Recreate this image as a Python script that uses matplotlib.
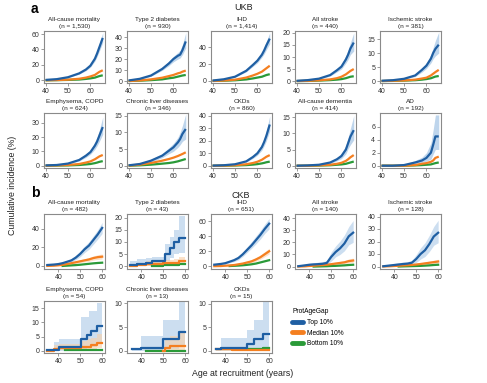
import matplotlib
matplotlib.use('Agg')
import matplotlib.pyplot as plt
from matplotlib.lines import Line2D

nan = float('nan')
plt.rcParams['font.family'] = ['Liberation Sans', 'DejaVu Sans']

# ---------------- UKB data (age grid shared) ----------------
ukb_age = [40, 45, 50, 55, 58, 60, 62, 63, 64, 65.5]

ukb_mort_top = [0.5, 1.5, 4, 9, 14, 19, 28, 35, 43, 55]
ukb_mort_hi = [0.7, 1.8, 4.6, 10, 15.5, 21, 31, 39, 48, 62]
ukb_mort_lo = [0.3, 1.2, 3.4, 8, 12.5, 17, 25, 31, 38, 49]
ukb_mort_med = [0, 0.3, 0.8, 2, 3.5, 5, 7, 9, 11, 13]
ukb_mort_bot = [0, 0.2, 0.5, 1, 1.8, 2.5, 3.5, 4.5, 5.5, 6.5]

ukb_t2d_top = [0.5, 2, 5, 11, 16, 20, 23, 24, 28, 36]
ukb_t2d_hi = [0.7, 2.4, 5.7, 12.3, 18, 22.5, 26, 28, 33, 44]
ukb_t2d_lo = [0.3, 1.6, 4.3, 9.7, 14, 17.5, 20, 21, 24, 30]
ukb_t2d_med = [0, 0.5, 1.5, 3, 4.5, 5.5, 7, 7.5, 8.5, 9.5]
ukb_t2d_bot = [0, 0.3, 0.8, 1.5, 2.5, 3, 4, 4.5, 5, 5.5]

ukb_ihd_top = [0.5, 2, 5, 12, 19, 24, 31, 36, 42, 50]
ukb_ihd_hi = [0.7, 2.4, 5.6, 13.2, 20.8, 26.5, 34, 40, 47, 57]
ukb_ihd_lo = [0.3, 1.6, 4.4, 10.8, 17.2, 21.5, 28, 32, 37, 44]
ukb_ihd_med = [0, 0.5, 1.5, 4, 6.5, 8.5, 11, 13, 15, 18]
ukb_ihd_bot = [0, 0.3, 0.8, 1.8, 3, 4, 5, 6, 7, 8]

ukb_str_top = [0.1, 0.4, 1, 2.5, 4.5, 6, 9, 11, 13.5, 16]
ukb_str_hi = [0.2, 0.5, 1.2, 2.9, 5.2, 7, 10.5, 13, 16, 20]
ukb_str_lo = [0.05, 0.3, 0.8, 2.1, 3.8, 5, 7.5, 9, 11, 12.5]
ukb_str_med = [0, 0.1, 0.3, 0.7, 1.2, 1.8, 2.8, 3.5, 4.2, 5]
ukb_str_bot = [0, 0.05, 0.2, 0.4, 0.6, 0.8, 1.2, 1.5, 1.8, 2]

ukb_isc_top = [0.1, 0.3, 0.8, 2, 4, 5.5, 8, 10, 11.5, 13]
ukb_isc_hi = [0.2, 0.4, 1, 2.4, 4.8, 6.5, 9.5, 12, 14.5, 17.5]
ukb_isc_lo = [0.05, 0.2, 0.6, 1.6, 3.2, 4.5, 6.5, 8, 9, 10]
ukb_isc_med = [0, 0.1, 0.2, 0.5, 0.9, 1.2, 2, 2.6, 3.2, 4]
ukb_isc_bot = [0, 0.05, 0.15, 0.3, 0.5, 0.7, 1, 1.3, 1.6, 1.8]

ukb_copd_top = [0.2, 0.5, 1.5, 4, 7, 9.5, 14, 17, 21, 27]
ukb_copd_hi = [0.3, 0.7, 1.8, 4.7, 8.2, 11, 16.5, 20, 25, 34]
ukb_copd_lo = [0.1, 0.4, 1.2, 3.3, 5.8, 8, 11.5, 14, 17, 22]
ukb_copd_med = [0, 0.2, 0.5, 1.2, 2.2, 3, 4.5, 5.5, 6.5, 7.5]
ukb_copd_bot = [0, 0.1, 0.2, 0.5, 0.9, 1.2, 1.8, 2.2, 2.7, 3.2]

ukb_liv_top = [0.1, 0.5, 1.5, 3, 4.5, 5.5, 7, 8, 9.5, 11]
ukb_liv_hi = [0.2, 0.7, 1.9, 3.6, 5.4, 6.7, 8.5, 10, 12, 15.5]
ukb_liv_lo = [0.05, 0.3, 1.1, 2.4, 3.6, 4.3, 5.5, 6.3, 7.3, 8]
ukb_liv_med = [0, 0.3, 0.8, 1.5, 2, 2.4, 2.9, 3.2, 3.5, 4]
ukb_liv_bot = [0, 0.1, 0.3, 0.6, 0.8, 1, 1.3, 1.5, 1.7, 2]

ukb_ckd_top = [0.1, 0.4, 1.2, 3.5, 7, 10, 15, 19, 24, 33]
ukb_ckd_hi = [0.2, 0.5, 1.5, 4.1, 8.1, 11.6, 17.5, 22, 28, 40]
ukb_ckd_lo = [0.05, 0.3, 0.9, 2.9, 5.9, 8.4, 12.5, 16, 20, 28]
ukb_ckd_med = [0, 0.1, 0.4, 1.2, 2.2, 3.2, 4.8, 6, 7.2, 8.5]
ukb_ckd_bot = [0, 0.05, 0.2, 0.5, 0.9, 1.3, 1.9, 2.3, 2.8, 3.3]

ukb_dem_top = [0, 0.1, 0.3, 1, 2, 3, 5, 7, 9, 11]
ukb_dem_hi = [0, 0.2, 0.4, 1.3, 2.5, 3.8, 6.3, 8.7, 11.5, 15.5]
ukb_dem_lo = [0, 0.05, 0.2, 0.7, 1.5, 2.2, 3.7, 5.3, 6.5, 8]
ukb_dem_med = [0, 0, 0.1, 0.3, 0.6, 0.9, 1.5, 2, 2.6, 3.3]
ukb_dem_bot = [0, 0, 0.05, 0.15, 0.3, 0.4, 0.6, 0.8, 1, 1.3]

ukb_ad_top = [0, 0, 0.1, 0.5, 0.8, 1.2, 2, 3.2, 4.5, 4.5]
ukb_ad_hi = [0, 0, 0.2, 0.8, 1.3, 2, 3.5, 5.5, 7.8, 7.8]
ukb_ad_lo = [0, 0, 0.05, 0.3, 0.5, 0.7, 1, 1.8, 2.5, 2.5]
ukb_ad_med = [0, 0, 0, 0.1, 0.3, 0.4, 0.6, 0.8, 1.2, 1.4]
ukb_ad_bot = [0, 0, 0, 0.05, 0.1, 0.15, 0.2, 0.3, 0.4, 0.5]

# ---------------- CKB data ----------------
ckb_age = [35, 38, 40, 42, 44, 46, 48, 50, 52, 54, 56, 58, 60]

ckb_mort_top = [1, 1.5, 2, 3, 4.5, 6, 9, 13, 18, 22, 28, 34, 41]
ckb_mort_hi = [1.5, 2.2, 3, 4.2, 6, 8, 11.5, 16, 21.5, 26, 32.5, 39, 47]
ckb_mort_lo = [0.5, 1, 1.3, 2, 3, 4.2, 6.8, 10, 14.5, 18, 23.5, 29, 35]
ckb_mort_med = [0, 0.3, 0.7, 1.2, 2, 3, 4, 5, 6, 7, 8.5, 9.5, 10]
ckb_mort_med_hi = [0, 0.6, 1.1, 1.8, 2.8, 4, 5.3, 6.5, 7.8, 9, 10.8, 12, 13]
ckb_mort_med_lo = [0, 0.1, 0.3, 0.7, 1.3, 2, 2.8, 3.6, 4.3, 5, 6.2, 7, 7.5]
ckb_mort_bot = [nan, nan, nan, 0, 0.3, 0.6, 0.9, 1.3, 1.8, 2.3, 2.8, 3.2, 3.5]

ckb_ihd_top = [2, 3, 4, 6, 8, 11, 16, 22, 28, 35, 42, 50, 57]
ckb_ihd_hi = [3, 4.2, 5.5, 7.8, 10.2, 13.5, 19, 26, 33, 40.5, 48, 56.5, 64]
ckb_ihd_lo = [1.2, 2, 2.8, 4.5, 6, 8.5, 13, 18.5, 24, 30, 36.5, 44, 50]
ckb_ihd_med = [0, 0.2, 0.6, 1, 1.5, 2.5, 3.5, 5, 6.5, 9, 12, 16, 20]
ckb_ihd_med_hi = [0, 0.5, 1.1, 1.7, 2.4, 3.6, 4.9, 6.8, 8.6, 11.6, 15, 19.5, 24]
ckb_ihd_med_lo = [0, 0, 0.2, 0.5, 0.8, 1.5, 2.3, 3.4, 4.6, 6.6, 9.2, 12.8, 16.3]
ckb_ihd_bot = [nan, nan, nan, 0.2, 0.5, 0.8, 1.2, 1.8, 2.5, 3.5, 5, 6.5, 8]

ckb_str_top = [0.3, 1, 1.5, 1.8, 2, 2.3, 3, 8, 12, 15, 19, 25, 28]
ckb_str_hi = [1, 2, 2.7, 3.2, 3.6, 4, 5, 12, 17, 21, 26, 33, 38]
ckb_str_lo = [0, 0.3, 0.6, 0.8, 0.9, 1, 1.5, 4.5, 8, 10, 13, 18, 20]
ckb_str_med = [0, 0.2, 0.5, 0.7, 1, 1.2, 1.5, 2, 2.5, 3, 3.5, 4.5, 5]
ckb_str_med_hi = [0, 0.6, 1, 1.3, 1.7, 2, 2.4, 3, 3.7, 4.3, 5, 6.3, 7]
ckb_str_med_lo = [0, 0, 0.2, 0.3, 0.5, 0.6, 0.8, 1.2, 1.5, 1.9, 2.2, 3, 3.3]
ckb_str_bot = [nan, nan, nan, 0, 0.1, 0.2, 0.3, 0.5, 0.6, 0.8, 1, 1.3, 1.5]

ckb_isc_top = [0.2, 0.8, 1.2, 1.6, 2, 2.3, 3, 6, 10, 13, 18, 24, 27]
ckb_isc_hi = [0.8, 1.8, 2.4, 3, 3.5, 3.8, 5, 9.5, 15, 19, 25, 32, 37]
ckb_isc_lo = [0, 0.2, 0.5, 0.7, 0.9, 1, 1.4, 3.2, 6, 8, 12, 17, 19]
ckb_isc_med = [0, 0.2, 0.4, 0.6, 0.8, 1, 1.2, 1.6, 2, 2.5, 3, 3.5, 4]
ckb_isc_med_hi = [0, 0.5, 0.8, 1.1, 1.4, 1.7, 2, 2.5, 3, 3.6, 4.3, 5, 5.8]
ckb_isc_med_lo = [0, 0, 0.1, 0.2, 0.3, 0.4, 0.5, 0.8, 1.1, 1.5, 1.8, 2.2, 2.5]
ckb_isc_bot = [nan, nan, nan, 0, 0.1, 0.2, 0.3, 0.4, 0.5, 0.7, 0.9, 1.2, 1.4]

# small-n CKB panels drawn as step curves, each with own change points
ckb_t2d_age = [35, 38, 42, 45, 50, 51, 53, 55, 57, 60]
ckb_t2d_top = [0.5, 1, 1.5, 2, 2, 5, 7.5, 10, 11.5, 11.5]
ckb_t2d_hi = [2, 3, 3.5, 4, 4, 9, 12, 15, 20.5, 20.5]
ckb_t2d_lo = [0, 0, 0, 0.3, 0.3, 2, 3.5, 5, 5.5, 5.5]
ckb_t2d_med = [0, 0.5, 1, 1, 1.5, 1.5, 1.5, 1.5, 2, 2]
ckb_t2d_med_hi = [0.5, 1.5, 2, 2.2, 2.8, 2.8, 2.8, 3, 3.8, 3.8]
ckb_t2d_med_lo = [0, 0, 0.3, 0.4, 0.6, 0.6, 0.6, 0.7, 1, 1]
ckb_t2d_bot = [nan, nan, nan, 0, 0.5, 0.5, 0.5, 0.5, 1, 1]

ckb_copd_age = [35, 38, 40.5, 43, 50.5, 53, 54, 55, 57.5, 60]
ckb_copd_top = [0.3, 0.3, 1.2, 1.2, 4.3, 5.7, 5.7, 7, 8.8, 8.8]
ckb_copd_hi = [0.5, 3, 4, 4, 12, 12, 14, 14, 17, 17]
ckb_copd_lo = [0, 0, 0, 0, 0.5, 1, 1, 1.5, 2.5, 2.5]
ckb_copd_med = [0, 0.5, 1, 1, 1.2, 1.5, 1.5, 2, 2.8, 2.8]
ckb_copd_med_hi = [0, 2, 2.3, 2.5, 3.5, 4, 4, 4.5, 6, 6]
ckb_copd_med_lo = [0, 0, 0.2, 0.2, 0.4, 0.5, 0.5, 0.7, 1, 1]
ckb_copd_bot = [nan, nan, nan, 0.3, 0.3, 0.3, 0.3, 0.3, 0.3, 0.3]

ckb_liv_age = [35, 36, 40, 42, 50, 51, 53, 57, 60]
ckb_liv_top = [nan, 0.3, 0.5, 0.5, 2.5, 2.5, 2.5, 4, 4]
ckb_liv_hi = [nan, 0.5, 3, 3, 6.5, 6.5, 6.5, 11, 11]
ckb_liv_lo = [nan, 0, 0, 0, 0.3, 0.3, 0.3, 0.8, 0.8]
ckb_liv_med = [nan, nan, nan, nan, 0, 0.5, 1, 1, 1]
ckb_liv_med_hi = [nan, nan, nan, nan, 0, 2.5, 3, 3.8, 3.8]
ckb_liv_med_lo = [nan, nan, nan, nan, 0, 0, 0.2, 0.2, 0.2]
ckb_liv_bot = [nan, nan, nan, 0, 0, 0, 0, 0, 0]

ckb_ckd_age = [35, 36, 38, 43, 50, 53, 57, 60]
ckb_ckd_top = [nan, 0.3, 0.5, 0.5, 1.5, 2.5, 3.5, 3.5]
ckb_ckd_hi = [nan, 0.5, 2.7, 2.7, 4.5, 6.5, 10.5, 10.5]
ckb_ckd_lo = [nan, 0, 0, 0, 0.2, 0.5, 0.8, 0.8]
ckb_ckd_med = [nan, 0.3, 0.3, 0.1, 0.1, 0.1, 0.2, 0.2]
ckb_ckd_med_hi = [nan, 0.6, 0.8, 0.5, 0.5, 0.5, 0.8, 0.8]
ckb_ckd_med_lo = [nan, 0, 0, 0, 0, 0, 0, 0]
ckb_ckd_bot = [nan, nan, nan, 0.3, 0.3, 0.3, 0.5, 0.5]

# ---------------- styles ----------------
C_TOP = '#1f5fa3'
C_MED = '#f47f20'
C_BOT = '#2a9a38'
F_TOP = '#b7d1ea'
F_MED = '#f9cfa8'
SPINE = '#8a8a8a'

W, H = 487, 383
fig = plt.figure(figsize=(W / 100, H / 100), dpi=100)

col_left = [44, 127, 211, 295, 380]
col_w = 61


def make_ax(col, top_px, bot_px):
    l = col_left[col]
    return fig.add_axes([l / W, 1 - bot_px / H, col_w / W, (bot_px - top_px) / H])


def style(ax, title, n, xlim, xticks, ylim, yticks):
    ax.set_xlim(*xlim)
    ax.set_ylim(*ylim)
    ax.set_xticks(xticks)
    ax.set_yticks(yticks)
    for s in ax.spines.values():
        s.set_color(SPINE)
        s.set_linewidth(0.8)
    ax.tick_params(length=2, width=0.6, color=SPINE, labelsize=5,
                   labelcolor='#333333', pad=1.5)
    ax.set_title(f"{title}\n(n = {n})", fontsize=4.6, pad=2.5,
                 linespacing=1.35, color='#222222')


ukb_xlim = (39.3, 66.5)
ukb_xt = [40, 50, 60]
ckb_xlim = (33.5, 61.3)
ckb_xt = [40, 50, 60]

ukb_panels = [
    ('All-cause mortality', '1,530', ukb_mort_top, ukb_mort_hi, ukb_mort_lo, ukb_mort_med, ukb_mort_bot, (-3.5, 64), [0, 20, 40, 60]),
    ('Type 2 diabetes', '930', ukb_t2d_top, ukb_t2d_hi, ukb_t2d_lo, ukb_t2d_med, ukb_t2d_bot, (-1.8, 45.5), [0, 10, 20, 30, 40]),
    ('IHD', '1,414', ukb_ihd_top, ukb_ihd_hi, ukb_ihd_lo, ukb_ihd_med, ukb_ihd_bot, (-2.4, 59), [0, 20, 40]),
    ('All stroke', '440', ukb_str_top, ukb_str_hi, ukb_str_lo, ukb_str_med, ukb_str_bot, (-0.8, 20.8), [0, 5, 10, 15, 20]),
    ('Ischemic stroke', '381', ukb_isc_top, ukb_isc_hi, ukb_isc_lo, ukb_isc_med, ukb_isc_bot, (-0.7, 17.9), [0, 5, 10, 15]),
    ('Emphysema, COPD', '624', ukb_copd_top, ukb_copd_hi, ukb_copd_lo, ukb_copd_med, ukb_copd_bot, (-1.6, 36.8), [0, 10, 20, 30]),
    ('Chronic liver diseases', '346', ukb_liv_top, ukb_liv_hi, ukb_liv_lo, ukb_liv_med, ukb_liv_bot, (-0.7, 15.8), [0, 5, 10, 15]),
    ('CKDs', '860', ukb_ckd_top, ukb_ckd_hi, ukb_ckd_lo, ukb_ckd_med, ukb_ckd_bot, (-1.8, 42.2), [0, 10, 20, 30, 40]),
    ('All-cause dementia', '414', ukb_dem_top, ukb_dem_hi, ukb_dem_lo, ukb_dem_med, ukb_dem_bot, (-0.7, 16.3), [0, 5, 10, 15]),
    ('AD', '192', ukb_ad_top, ukb_ad_hi, ukb_ad_lo, ukb_ad_med, ukb_ad_bot, (-0.35, 8.1), [0, 2, 4, 6]),
]

ukb_rows = [(31, 83), (113, 168)]
for i, (name, n, top, hi, lo, med, bot, yl, yt) in enumerate(ukb_panels):
    r, c = divmod(i, 5)
    ax = make_ax(c, *ukb_rows[r])
    ax.fill_between(ukb_age, lo, hi, color=F_TOP, lw=0, alpha=0.9)
    ax.plot(ukb_age, bot, color=C_BOT, lw=1.6, solid_capstyle='butt')
    ax.plot(ukb_age, med, color=C_MED, lw=1.6, solid_capstyle='butt')
    ax.plot(ukb_age, top, color=C_TOP, lw=1.6, solid_capstyle='butt')
    style(ax, name, n, ukb_xlim, ukb_xt, yl, yt)

ckb_panels = [
    ('All-cause mortality', '482', ckb_age, ckb_mort_top, ckb_mort_hi, ckb_mort_lo, ckb_mort_med, ckb_mort_med_hi, ckb_mort_med_lo, ckb_mort_bot, (-3.3, 56), [0, 20, 40], False),
    ('Type 2 diabetes', '43', ckb_t2d_age, ckb_t2d_top, ckb_t2d_hi, ckb_t2d_lo, ckb_t2d_med, ckb_t2d_med_hi, ckb_t2d_med_lo, ckb_t2d_bot, (-1.1, 21.5), [0, 5, 10, 15, 20], True),
    ('IHD', '651', ckb_age, ckb_ihd_top, ckb_ihd_hi, ckb_ihd_lo, ckb_ihd_med, ckb_ihd_med_hi, ckb_ihd_med_lo, ckb_ihd_bot, (-3.8, 70), [0, 20, 40, 60], False),
    ('All stroke', '140', ckb_age, ckb_str_top, ckb_str_hi, ckb_str_lo, ckb_str_med, ckb_str_med_hi, ckb_str_med_lo, ckb_str_bot, (-2, 43.4), [0, 10, 20, 30, 40], False),
    ('Ischemic stroke', '128', ckb_age, ckb_isc_top, ckb_isc_hi, ckb_isc_lo, ckb_isc_med, ckb_isc_med_hi, ckb_isc_med_lo, ckb_isc_bot, (-2, 42), [0, 10, 20, 30, 40], False),
    ('Emphysema, COPD', '54', ckb_copd_age, ckb_copd_top, ckb_copd_hi, ckb_copd_lo, ckb_copd_med, ckb_copd_med_hi, ckb_copd_med_lo, ckb_copd_bot, (-0.8, 17.6), [0, 5, 10, 15], True),
    ('Chronic liver diseases', '13', ckb_liv_age, ckb_liv_top, ckb_liv_hi, ckb_liv_lo, ckb_liv_med, ckb_liv_med_hi, ckb_liv_med_lo, ckb_liv_bot, (-0.5, 10.5), [0, 5, 10], True),
    ('CKDs', '15', ckb_ckd_age, ckb_ckd_top, ckb_ckd_hi, ckb_ckd_lo, ckb_ckd_med, ckb_ckd_med_hi, ckb_ckd_med_lo, ckb_ckd_bot, (-0.5, 10.6), [0, 5, 10], True),
]

ckb_rows = [(214, 269), (301, 353)]
for i, (name, n, age, top, hi, lo, med, mhi, mlo, bot, yl, yt, step) in enumerate(ckb_panels):
    r, c = divmod(i, 5)
    ax = make_ax(c, *ckb_rows[r])
    ds = 'steps-post' if step else 'default'
    st = 'post' if step else None
    ax.fill_between(age, lo, hi, color=F_TOP, lw=0, alpha=0.7, step=st)
    ax.fill_between(age, mlo, mhi, color=F_MED, lw=0, alpha=0.6, step=st)
    ax.plot(age, bot, color=C_BOT, lw=1.6, drawstyle=ds)
    ax.plot(age, med, color=C_MED, lw=1.6, drawstyle=ds)
    ax.plot(age, top, color=C_TOP, lw=1.6, drawstyle=ds)
    style(ax, name, n, ckb_xlim, ckb_xt, yl, yt)

# panel letters and cohort labels
fig.text(31 / W, 1 - 9 / H, 'a', fontsize=10, fontweight='bold', ha='left', va='center')
fig.text(31 / W, 1 - 193 / H, 'b', fontsize=10, fontweight='bold', ha='left', va='center')
fig.text(244 / W, 1 - 8 / H, 'UKB', fontsize=6.5, ha='center', va='center', color='#222222')
fig.text(241 / W, 1 - 196 / H, 'CKB', fontsize=6.5, ha='center', va='center', color='#222222')
fig.text(13 / W, 1 - 185 / H, 'Cumulative incidence (%)', fontsize=6.3, rotation=90,
         ha='center', va='center', color='#222222')
fig.text(243 / W, 1 - 373 / H, 'Age at recruitment (years)', fontsize=6.3,
         ha='center', va='center', color='#222222')

handles = [Line2D([0], [0], color=C_TOP, lw=3.5, solid_capstyle='round'),
           Line2D([0], [0], color=C_MED, lw=3.5, solid_capstyle='round'),
           Line2D([0], [0], color=C_BOT, lw=3.5, solid_capstyle='round')]
leg = fig.legend(handles, ['Top 10%', 'Median 10%', 'Bottom 10%'], title='ProtAgeGap',
                 loc='upper left', bbox_to_anchor=(289 / W, 1 - 305 / H), frameon=False,
                 fontsize=4.8, title_fontsize=4.8, handlelength=1.6, handletextpad=0.6,
                 labelspacing=0.55, borderpad=0, alignment='left')

fig.savefig('out.png', dpi=100)
